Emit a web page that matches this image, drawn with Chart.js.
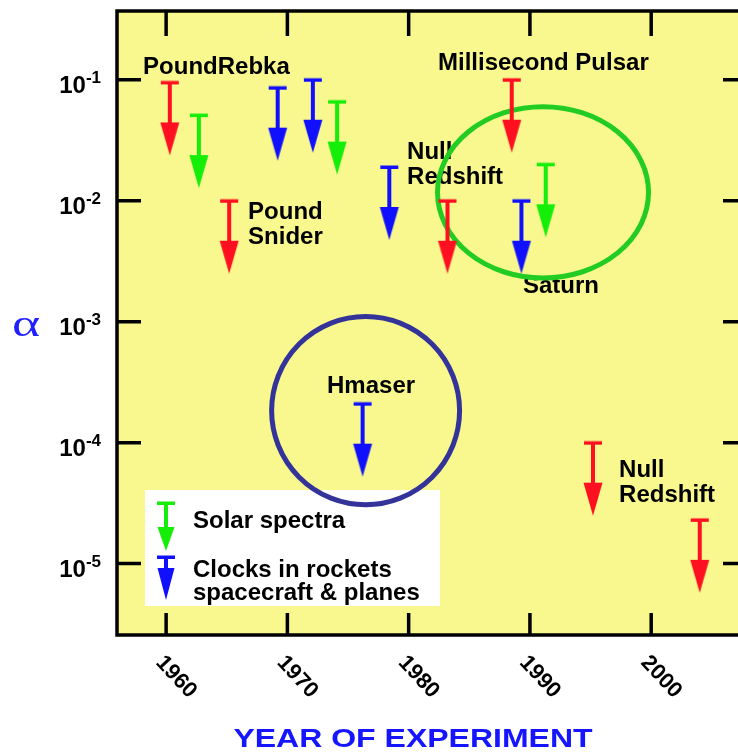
<!DOCTYPE html>
<html>
<head>
<meta charset="utf-8">
<script src="https://cdn.jsdelivr.net/npm/chart.js@4/dist/chart.umd.min.js"></script>
<style>
  html, body { margin: 0; padding: 0; background: #fff; overflow: hidden; width: 738px; height: 756px; }
  #wrap { position: relative; width: 760px; height: 756px; }
</style>
</head>
<body>
<div id="wrap"><canvas id="c" width="760" height="756"></canvas></div>
<script>
// Upper limits on the redshift anomaly parameter alpha, by year of experiment
const redshiftYears  = [1960.3, 1965.2, 1983.2, 1988.5, 1995.2, 2004.0];
const redshiftLimits = [0.095, 0.010, 0.010, 0.100, 1.0e-4, 2.3e-5];

const solarYears  = [1962.7, 1974.1, 1991.3];
const solarLimits = [0.051, 0.066, 0.020];

const clockYears  = [1969.2, 1972.1, 1976.2, 1978.4, 1989.3];
const clockLimits = [0.086, 0.100, 2.1e-4, 0.019, 0.010];

const yearTicks = [1960, 1970, 1980, 1990, 2000];
const decadeTicks = [1e-1, 1e-2, 1e-3, 1e-4, 1e-5];
const decadeExponents = ['-1', '-2', '-3', '-4', '-5'];

const legendLabels = [['Solar spectra'], ['Clocks in rockets', 'spacecraft & planes']];

// experiment names, anchored at (year, alpha) of the first line's baseline
const notes = [
  { lines: ['PoundRebka'], year: 1958.10, value: 0.1120 },
  { lines: ['Pound', 'Snider'], year: 1966.76, value: 0.00703 },
  { lines: ['Millisecond Pulsar'], year: 1982.42, value: 0.1209 },
  { lines: ['Null', 'Redshift'], year: 1979.87, value: 0.02193 },
  { lines: ['Saturn'], year: 1989.43, value: 0.001726 },
  { lines: ['Hmaser'], year: 1973.27, value: 2.592e-4 },
  { lines: ['Null', 'Redshift'], year: 1997.35, value: 5.17e-5 }
];

// highlighted groups: centre (year, alpha), half-width in years, half-height in decades
const rings = [
  { year: 1991.08, value: 0.01172, halfYears: 8.70, halfDecades: 0.708, color: '#22cc22' },
  { year: 1976.45, value: 1.84e-4, halfYears: 7.75, halfDecades: 0.778, color: '#333399' }
];

const RED = '#ff1020', GREEN = '#14ee08', BLUE = '#1010ff';
const PLOT_BG = '#f8f88e';
const BOLD = 'bold 24px "Liberation Sans", Arial, Helvetica, sans-serif';

function drawArrow(ctx, x, yCap, capW, shaftLen, headLen, headW, color) {
  ctx.fillStyle = color;
  ctx.fillRect(x - capW / 2, yCap - 1.5, capW, 3.5);
  ctx.fillRect(x - 2, yCap, 4, shaftLen + 1);
  ctx.beginPath();
  ctx.moveTo(x - headW / 2, yCap + shaftLen);
  ctx.lineTo(x + headW / 2, yCap + shaftLen);
  ctx.lineTo(x, yCap + shaftLen + headLen);
  ctx.closePath();
  ctx.fill();
}

// upper-limit marker: the cap sits at the centre of the image, arrow points down
function limitMarker(color) {
  const c = document.createElement('canvas');
  c.width = 22; c.height = 150;
  drawArrow(c.getContext('2d'), 11, 75, 18, 40, 33, 19, color);
  return c;
}

function toPoints(xs, ys) { return xs.map((x, i) => ({ x: x, y: ys[i] })); }

const decor = {
  id: 'decor',
  beforeDatasetsDraw(chart) {
    const { ctx, chartArea: a, scales: { x, y } } = chart;
    ctx.save();
    ctx.fillStyle = PLOT_BG;
    ctx.fillRect(a.left, a.top, a.right - a.left, a.bottom - a.top);

    // legend box
    ctx.fillStyle = '#ffffff';
    ctx.fillRect(145, 490, 295, 116);
    drawArrow(ctx, 166, 503, 18, 24, 24, 17, GREEN);
    drawArrow(ctx, 166, 557, 18, 11, 32, 17, BLUE);
    ctx.fillStyle = '#000';
    ctx.font = BOLD;
    ctx.textAlign = 'left';
    ctx.textBaseline = 'alphabetic';
    ctx.fillText(legendLabels[0][0], 193, 528);
    ctx.fillText(legendLabels[1][0], 193, 577);
    ctx.fillText(legendLabels[1][1], 193, 600);

    // experiment names
    notes.forEach(n => {
      const px = x.getPixelForValue(n.year);
      const py = y.getPixelForValue(n.value);
      n.lines.forEach((t, i) => ctx.fillText(t, px, py + i * 25));
    });

    // rings
    rings.forEach(r => {
      const cx = x.getPixelForValue(r.year);
      const cy = y.getPixelForValue(r.value);
      const rx = x.getPixelForValue(r.year + r.halfYears) - cx;
      const ry = cy - y.getPixelForValue(r.value * Math.pow(10, r.halfDecades));
      ctx.beginPath();
      ctx.ellipse(cx, cy, rx, ry, 0, 0, Math.PI * 2);
      ctx.lineWidth = 5;
      ctx.strokeStyle = r.color;
      ctx.stroke();
    });
    ctx.restore();
  },
  afterDraw(chart) {
    const { ctx, chartArea: a, scales: { x, y } } = chart;
    ctx.save();
    ctx.strokeStyle = '#000';
    ctx.lineWidth = 3.5;
    ctx.beginPath();
    yearTicks.forEach(v => {
      const px = x.getPixelForValue(v);
      ctx.moveTo(px, a.top); ctx.lineTo(px, a.top + 25);
      ctx.moveTo(px, a.bottom); ctx.lineTo(px, a.bottom - 22);
    });
    decadeTicks.forEach(v => {
      const py = y.getPixelForValue(v);
      ctx.moveTo(a.left, py); ctx.lineTo(a.left + 24, py);
      ctx.moveTo(a.right, py); ctx.lineTo(a.right - 24, py);
    });
    ctx.stroke();
    ctx.strokeRect(a.left, a.top, a.right - a.left, a.bottom - a.top);

    // y tick labels: 10 with raised exponent
    ctx.fillStyle = '#000';
    ctx.textBaseline = 'alphabetic';
    ctx.textAlign = 'left';
    const expFont = 'bold 17px "Liberation Sans", Arial, sans-serif';
    const baseFont = 'bold 24px "Liberation Sans", Arial, sans-serif';
    decadeTicks.forEach((v, i) => {
      const py = y.getPixelForValue(v);
      ctx.font = expFont;
      const ew = ctx.measureText(decadeExponents[i]).width;
      ctx.font = baseFont;
      const bw = ctx.measureText('10').width;
      const right = a.left - 16;
      ctx.fillText('10', right - ew - bw, py + 13);
      ctx.font = expFont;
      ctx.fillText(decadeExponents[i], right - ew, py + 3.5);
    });

    // x tick labels, slanted
    ctx.font = 'bold 22px "Liberation Sans", Arial, sans-serif';
    ctx.textAlign = 'center';
    ctx.textBaseline = 'middle';
    yearTicks.forEach(v => {
      const px = x.getPixelForValue(v);
      ctx.save();
      ctx.translate(px + 10, a.bottom + 42);
      ctx.rotate(47 * Math.PI / 180);
      ctx.fillText(String(v), 0, 0);
      ctx.restore();
    });

    // axis titles
    ctx.fillStyle = '#1515ff';
    ctx.save();
    ctx.translate(413, 747);
    ctx.scale(1.28, 1);
    ctx.font = 'bold 25px "Liberation Sans", Arial, sans-serif';
    ctx.textAlign = 'center';
    ctx.textBaseline = 'alphabetic';
    ctx.fillText('YEAR OF EXPERIMENT', 0, 0);
    ctx.restore();

    ctx.fillStyle = '#2020ff';
    ctx.save();
    ctx.translate(12, 336);
    ctx.scale(1.45, 1);
    ctx.font = '37px "Liberation Serif", "DejaVu Serif", serif';
    ctx.textAlign = 'left';
    ctx.textBaseline = 'alphabetic';
    ctx.fillText('\u03b1', 0, 0);
    ctx.restore();
    ctx.restore();
  }
};

new Chart(document.getElementById('c'), {
  type: 'scatter',
  data: {
    datasets: [
      { label: 'Redshift', data: toPoints(redshiftYears, redshiftLimits), pointStyle: limitMarker(RED), pointRadius: 10 },
      { label: legendLabels[0].join(' '), data: toPoints(solarYears, solarLimits), pointStyle: limitMarker(GREEN), pointRadius: 10 },
      { label: legendLabels[1].join(' '), data: toPoints(clockYears, clockLimits), pointStyle: limitMarker(BLUE), pointRadius: 10 }
    ]
  },
  options: {
    responsive: false,
    animation: false,
    events: [],
    layout: { padding: { left: 117, right: 13, top: 9, bottom: 121 } },
    plugins: { legend: { display: false }, tooltip: { enabled: false }, title: { display: false } },
    scales: {
      x: { type: 'linear', min: 1955.95, max: 2007.9, display: false },
      y: { type: 'logarithmic', min: 2.57e-6, max: 0.370, display: false }
    }
  },
  plugins: [decor]
});
</script>
</body>
</html>
